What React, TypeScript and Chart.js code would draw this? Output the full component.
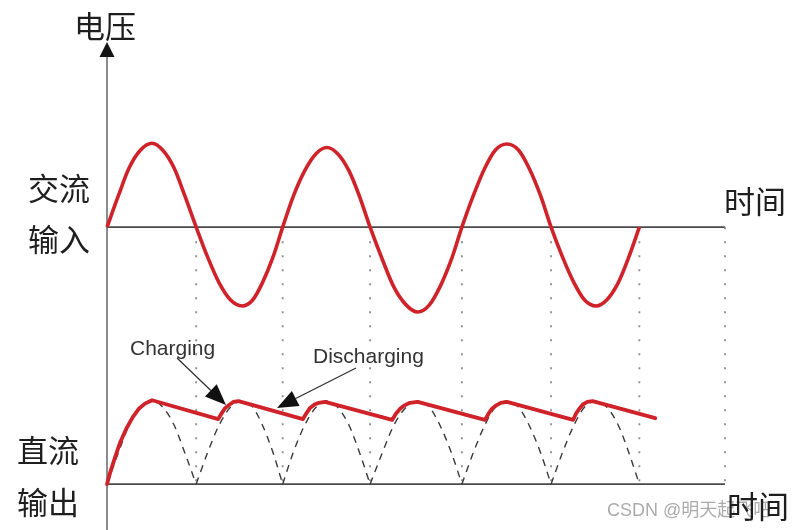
import React, { useEffect, useRef } from "react";
import { Chart, registerables } from "chart.js";

Chart.register(...registerables);

// ---- data ----
// time in half-periods of the AC input; voltage in units of its amplitude
const acTimes = [
  0, 0.13, 0.25, 0.38, 0.51, 0.63, 0.76, 0.88,
  1.01, 1.14, 1.27, 1.4, 1.53, 1.65, 1.76, 1.88,
  1.99, 2.11, 2.24, 2.37, 2.49, 2.61, 2.74, 2.86,
  2.98, 3.12, 3.25, 3.39, 3.52, 3.65, 3.77, 3.9,
  4.02, 4.15, 4.28, 4.4, 4.53, 4.66, 4.78, 4.91,
  5.03, 5.16, 5.29, 5.41, 5.54, 5.66, 5.79, 5.91,
  6.03,
];
const acVoltage = [
  0, 0.37, 0.69, 0.9, 0.98, 0.9, 0.69, 0.37,
  0, -0.35, -0.65, -0.85, -0.92, -0.85, -0.65, -0.35,
  0, 0.36, 0.66, 0.86, 0.93, 0.86, 0.66, 0.36,
  0, -0.38, -0.7, -0.91, -0.99, -0.91, -0.7, -0.38,
  0, 0.37, 0.69, 0.9, 0.97, 0.9, 0.69, 0.37,
  0, -0.35, -0.65, -0.85, -0.92, -0.85, -0.65, -0.35,
  0,
];

// full-wave rectified voltage (dashed), null separates the humps
const rectTimes = [
  0, 0.13, 0.25, 0.38, 0.51, 0.63, 0.76, 0.88, 1.01, 1.01,
  1.01, 1.14, 1.27, 1.4, 1.53, 1.65, 1.76, 1.88, 1.99, 1.99,
  1.99, 2.11, 2.24, 2.37, 2.49, 2.61, 2.74, 2.86, 2.98, 2.98,
  2.98, 3.12, 3.25, 3.39, 3.52, 3.65, 3.77, 3.9, 4.02, 4.02,
  4.02, 4.15, 4.28, 4.4, 4.53, 4.66, 4.78, 4.91, 5.03, 5.03,
  5.03, 5.16, 5.29, 5.41, 5.54, 5.66, 5.79, 5.91, 6.03,
];
const rectVoltage = [
  0, 0.37, 0.69, 0.9, 0.98, 0.9, 0.69, 0.37, 0, null,
  0, 0.37, 0.69, 0.9, 0.97, 0.9, 0.69, 0.37, 0, null,
  0, 0.37, 0.69, 0.9, 0.97, 0.9, 0.69, 0.37, 0, null,
  0, 0.37, 0.69, 0.9, 0.97, 0.9, 0.69, 0.37, 0, null,
  0, 0.37, 0.69, 0.9, 0.97, 0.9, 0.69, 0.37, 0, null,
  0, 0.37, 0.69, 0.9, 0.97, 0.9, 0.69, 0.37, 0,
];

// smoothed DC output (red)
const dcTimes = [
  0, 0.04, 0.09, 0.15, 0.22, 0.29, 0.36, 0.43, 0.51,
  1.26, 1.3, 1.34, 1.39, 1.43, 1.49,
  2.22, 2.26, 2.3, 2.35, 2.4, 2.47,
  3.23, 3.27, 3.32, 3.37, 3.43, 3.52,
  4.28, 4.32, 4.36, 4.41, 4.46, 4.53,
  5.28, 5.31, 5.35, 5.39, 5.44, 5.5,
  6.21,
];
const dcVoltage = [
  0, 0.15, 0.31, 0.49, 0.65, 0.78, 0.88, 0.94, 0.98,
  0.76, 0.83, 0.89, 0.93, 0.96, 0.97,
  0.76, 0.83, 0.89, 0.93, 0.95, 0.96,
  0.75, 0.82, 0.88, 0.92, 0.95, 0.96,
  0.75, 0.82, 0.88, 0.92, 0.95, 0.96,
  0.75, 0.82, 0.88, 0.93, 0.96, 0.97,
  0.77,
];

// zero crossings marked by dotted guide lines
const markerTimes = [1.01, 1.99, 2.98, 4.02, 5.03, 6.03, 7];

const AXIS_END = 7;
const AC_BASE = 3;
const DC_BASE = 0;

const RED = "#cf2229";
const CJK = '"Noto Sans CJK SC", "Noto Sans", sans-serif';

function drawArrow(ctx: CanvasRenderingContext2D, x1: number, y1: number, x2: number, y2: number, head: number, half: number) {
  const a = Math.atan2(y2 - y1, x2 - x1);
  const bx = x2 - head * Math.cos(a);
  const by = y2 - head * Math.sin(a);
  ctx.beginPath();
  ctx.moveTo(x1, y1);
  ctx.lineTo(bx, by);
  ctx.stroke();
  ctx.beginPath();
  ctx.moveTo(x2, y2);
  ctx.lineTo(bx - half * Math.sin(a), by + half * Math.cos(a));
  ctx.lineTo(bx + half * Math.sin(a), by - half * Math.cos(a));
  ctx.closePath();
  ctx.fill();
}

const decorPlugin = {
  id: "diagramDecor",
  beforeDatasetsDraw(chart: any) {
    const { ctx, scales } = chart;
    const xs = scales.x;
    const ys = scales.y;
    const x0 = xs.getPixelForValue(0);
    const xEnd = xs.getPixelForValue(AXIS_END);
    const yAc = ys.getPixelForValue(AC_BASE);
    const yDc = ys.getPixelForValue(DC_BASE);
    ctx.save();
    // vertical axis with arrow
    ctx.strokeStyle = "#6f6f6f";
    ctx.lineWidth = 1.6;
    ctx.beginPath();
    ctx.moveTo(x0, 530);
    ctx.lineTo(x0, 52);
    ctx.stroke();
    ctx.fillStyle = "#151515";
    ctx.beginPath();
    ctx.moveTo(x0, 42);
    ctx.lineTo(x0 - 7.5, 57);
    ctx.lineTo(x0 + 7.5, 57);
    ctx.closePath();
    ctx.fill();
    // time axes
    ctx.strokeStyle = "#4a4a4a";
    ctx.lineWidth = 1.6;
    ctx.beginPath();
    ctx.moveTo(x0, yAc);
    ctx.lineTo(xEnd, yAc);
    ctx.moveTo(x0, yDc);
    ctx.lineTo(xEnd, yDc);
    ctx.stroke();
    ctx.restore();
  },
  afterDatasetsDraw(chart: any) {
    const { ctx } = chart;
    ctx.save();
    // annotation arrows
    ctx.strokeStyle = "#333";
    ctx.fillStyle = "#111";
    ctx.lineWidth = 1.3;
    drawArrow(ctx, 177, 358, 226, 405, 21, 8.5);
    drawArrow(ctx, 356, 368, 277, 408, 21, 8.5);

    ctx.fillStyle = "#333";
    ctx.font = '21px "Liberation Sans", Arial, sans-serif';
    ctx.textAlign = "left";
    ctx.textBaseline = "alphabetic";
    ctx.fillText("Charging", 130, 355);
    ctx.fillText("Discharging", 313, 363);

    // watermark
    ctx.fillStyle = "rgba(150,150,150,0.8)";
    ctx.font = '18px "Liberation Sans", "Noto Sans CJK SC", sans-serif';
    ctx.textBaseline = "middle";
    ctx.fillText("CSDN @明天起飞吧", 607, 511);

    // Chinese labels
    ctx.fillStyle = "#1e1e1e";
    ctx.font = "31px " + CJK;
    ctx.textAlign = "center";
    ctx.textBaseline = "middle";
    ctx.fillText("电压", 105, 26);
    ctx.fillText("交流", 59, 188);
    ctx.fillText("输入", 59, 239);
    ctx.fillText("直流", 48, 450);
    ctx.fillText("输出", 48, 502);
    ctx.fillText("时间", 755, 201);
    ctx.fillText("时间", 758, 506);
    ctx.restore();
  },
};

export default function App() {
  const ref = useRef<HTMLCanvasElement | null>(null);

  useEffect(() => {
    if (!ref.current) return;

    const acData = acTimes.map((t, i) => ({ x: t, y: AC_BASE + acVoltage[i] }));
    const rectData = rectTimes.map((t, i) => ({ x: t, y: rectVoltage[i] === null ? null : DC_BASE + (rectVoltage[i] as number) }));
    const dcData = dcTimes.map((t, i) => ({ x: t, y: DC_BASE + dcVoltage[i] }));
    const guideData: any[] = [];
    markerTimes.forEach((t, i) => {
      guideData.push({ x: t, y: AC_BASE });
      guideData.push({ x: t, y: DC_BASE });
      if (i < markerTimes.length - 1) guideData.push({ x: t, y: null });
    });

    const chart = new Chart(ref.current, {
      type: "line",
      data: {
        datasets: [
          {
            label: "guides",
            data: guideData,
            borderColor: "#8c8c8c",
            borderWidth: 1.8,
            borderDash: [2, 12],
            pointRadius: 0,
            spanGaps: false,
            order: 4,
            clip: 6,
          },
          {
            label: "rectified",
            data: rectData,
            borderColor: "#3a3a3a",
            borderWidth: 1.4,
            borderDash: [7, 6],
            pointRadius: 0,
            cubicInterpolationMode: "monotone",
            spanGaps: false,
            order: 3,
            clip: 6,
          },
          {
            label: "AC input",
            data: acData,
            borderColor: RED,
            borderWidth: 3.6,
            pointRadius: 0,
            cubicInterpolationMode: "monotone",
            order: 2,
            clip: 6,
          },
          {
            label: "DC output",
            data: dcData,
            borderColor: RED,
            borderWidth: 3.8,
            pointRadius: 0,
            tension: 0,
            borderJoinStyle: "round",
            borderCapStyle: "round",
            order: 1,
            clip: 6,
          },
        ] as any,
      },
      options: {
        responsive: false,
        devicePixelRatio: 1,
        animation: false,
        layout: { padding: { left: 107, right: 68, top: 13, bottom: 3 } },
        scales: {
          x: { type: "linear", min: 0, max: AXIS_END, display: false },
          y: { type: "linear", min: -0.5, max: 5.5, display: false },
        },
        plugins: {
          legend: { display: false },
          tooltip: { enabled: false },
        },
        events: [],
      } as any,
      plugins: [decorPlugin],
    });

    return () => chart.destroy();
  }, []);

  return (
    <div style={{ position: "fixed", left: 0, top: 0, width: 793, height: 530, background: "#fff" }}>
      <canvas ref={ref} width={793} height={530} style={{ width: 793, height: 530, display: "block" }} />
    </div>
  );
}
